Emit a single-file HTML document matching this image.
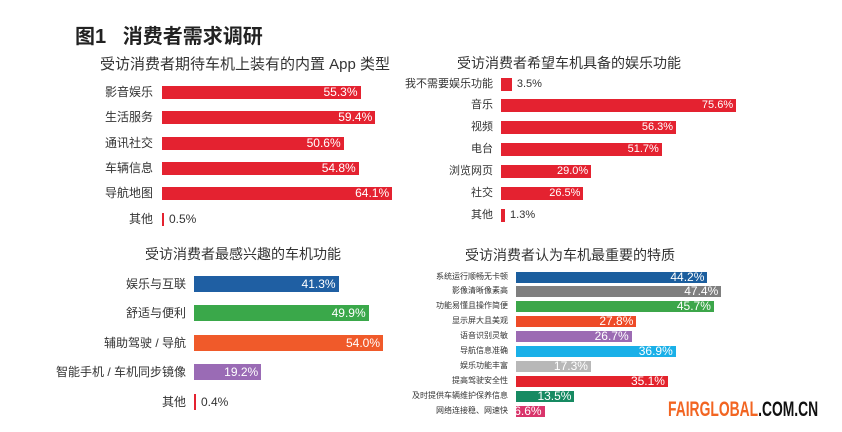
<!DOCTYPE html>
<html><head><meta charset="utf-8"><style>
body{margin:0;width:842px;height:432px;background:#fff;position:relative;overflow:hidden;font-family:"Liberation Sans","Noto Sans CJK SC",sans-serif;}
.a{position:absolute;white-space:nowrap;}
.lab{position:absolute;text-align:right;color:#333;white-space:nowrap;}
.bar{position:absolute;}
.v{position:absolute;color:#fff;text-align:right;white-space:nowrap;}
</style></head><body>
<div class="a" style="left:75px;top:20px;font-size:20px;font-weight:bold;color:#222;">图1&nbsp;&nbsp;&nbsp;消费者需求调研</div>
<div class="a" style="left:100px;top:53px;font-size:15px;color:#333;">受访消费者期待车机上装有的内置 App 类型</div>
<div class="a" style="left:457px;top:53px;font-size:14px;color:#333;">受访消费者希望车机具备的娱乐功能</div>
<div class="a" style="left:145px;top:244px;font-size:14px;color:#333;">受访消费者最感兴趣的车机功能</div>
<div class="a" style="left:465px;top:245px;font-size:14px;color:#333;">受访消费者认为车机最重要的特质</div>
<div class="a" style="left:668px;top:398px;font-size:21px;font-weight:bold;transform:scaleX(0.66);transform-origin:left;"><span style="color:#f26522">FAIRGLOBAL</span><span style="color:#111">.COM.CN</span></div>
<div id="c"></div>
<script>
var c=document.getElementById('c'),h='';
function chart(labels,vals,ys,left,scale,bh,fs,lfs,colors,labRight,minIn){
 for(var i=0;i<labels.length;i++){
  var y=ys[i],w=Math.max(2,vals[i]*scale),col=colors[i]||colors[0];
  h+='<div class="lab" style="right:'+(842-labRight)+'px;top:'+(y-10)+'px;line-height:20px;font-size:'+lfs+'px;">'+labels[i]+'</div>';
  h+='<div class="bar" style="left:'+left+'px;top:'+(y-bh/2)+'px;width:'+w+'px;height:'+bh+'px;background:'+col+'"></div>';
  if(w>minIn) h+='<div class="v" style="right:'+(842-left-w+3)+'px;top:'+(y-10)+'px;line-height:20px;font-size:'+fs+'px;">'+vals[i].toFixed(1)+'%</div>';
  else h+='<div class="a" style="left:'+(left+w+5)+'px;top:'+(y-10)+'px;line-height:20px;font-size:'+fs+'px;color:#333;">'+vals[i].toFixed(1)+'%</div>';
 }
}
var R='#e42230';
chart(['影音娱乐','生活服务','通讯社交','车辆信息','导航地图','其他'],[55.3,59.4,50.6,54.8,64.1,0.5],[92,117,143,168,193,219],162,3.59,13,12,12,[R],153,20);
chart(['我不需要娱乐功能','音乐','视频','电台','浏览网页','社交','其他'],[3.5,75.6,56.3,51.7,29.0,26.5,1.3],[84,105,127,149,171,193,215],501,3.11,13,11,11,[R],493,20);
chart(['娱乐与互联','舒适与便利','辅助驾驶 / 导航','智能手机 / 车机同步镜像','其他'],[41.3,49.9,54.0,19.2,0.4],[284,313,343,372,402],194,3.5,16,12,12,['#1f5fa3','#3aa84a','#f05a2a','#9a6bb5',R],186,20);
chart(['系统运行顺畅无卡顿','影像清晰像素高','功能易懂且操作简便','显示屏大且美观','语音识别灵敏','导航信息准确','娱乐功能丰富','提高驾驶安全性','及时提供车辆维护保养信息','网络连接稳、网速快'],[44.2,47.4,45.7,27.8,26.7,36.9,17.3,35.1,13.5,6.6],[277,291,306,321,336,351,366,381,396,411],516,4.33,11,12,8,['#1b5e9e','#7f7f7f','#3ca64a','#ee4b28','#9c6bb3','#1ab0e8','#b8b8b8','#e3232c','#178a62','#d9356b'],508,20);
c.innerHTML=h;
</script>
</body></html>
